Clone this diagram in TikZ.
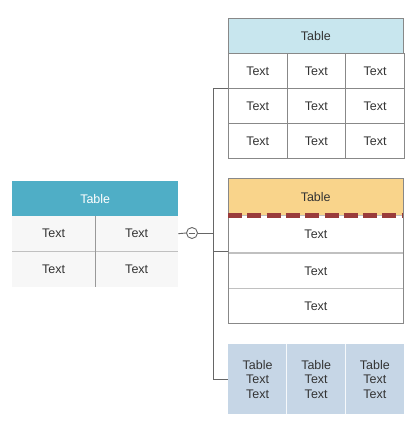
\documentclass[tikz,border=0pt]{standalone}
\usepackage{fontspec}
\setmainfont{Liberation Sans}
\begin{document}
\definecolor{lhead}{HTML}{4FAEC6}
\definecolor{lbody}{HTML}{F7F7F7}
\definecolor{lrow}{HTML}{C0C0C0}
\definecolor{lcol}{HTML}{999999}
\definecolor{thead}{HTML}{C8E6EE}
\definecolor{bord}{HTML}{888888}
\definecolor{ohead}{HTML}{F9D48B}
\definecolor{dashc}{HTML}{9A3B3B}
\definecolor{bfill}{HTML}{C6D6E6}
\definecolor{txt}{HTML}{333333}
\definecolor{conn}{HTML}{666666}
\begin{tikzpicture}[x=1pt,y=-1pt,
  every node/.style={font=\fontsize{12.5}{14}\selectfont, text=txt, inner sep=0pt, anchor=north west},
  cellbox/.style={minimum width=#1, minimum height=35},
  tcell/.style={draw=bord, line width=0.8pt, fill=white},
  conline/.style={draw=conn, line width=0.9pt}
]
\useasboundingbox (0,0) rectangle (418,432);
% left table
\node[fill=lhead, text=white, minimum width=166, minimum height=35] (Lh) at (12,181) {Table};
\node[fill=lbody, minimum width=83, minimum height=35] (L11) at (12,216) {Text};
\node[fill=lbody, minimum width=83, minimum height=35] (L12) at (95,216) {Text};
\node[fill=lbody, minimum width=83, minimum height=36] (L21) at (12,251) {Text};
\node[fill=lbody, minimum width=83, minimum height=36] (L22) at (95,251) {Text};
\draw[lrow, line width=1.6pt] (L11.south west) -- (L12.south east);
\draw[lcol, line width=0.9pt] (L12.north west) -- (L22.south west);
\node[draw=none, minimum width=166, minimum height=106] (L) at (12,181) {};
% top table
\node[fill=thead, draw=bord, line width=0.8pt, minimum width=175, minimum height=35] (Th) at (228,18) {Table};
\foreach \r/\y in {1/53,2/88,3/123}{
  \foreach \c/\x in {1/228,2/286.67,3/345.33}{
    \node[tcell, cellbox=58.67] (T\r\c) at (\x,\y) {Text};
  }
}
\node[minimum width=175, minimum height=140] (T) at (228,18) {};
% middle table
\node[fill=ohead, minimum width=175, minimum height=37] (Mh) at (228,178) {Table};
\node[draw=lrow, line width=0.9pt, fill=white, minimum width=175, minimum height=37] (M1) at (228,215) {Text};
\node[draw=lrow, line width=0.9pt, fill=white, minimum width=175, minimum height=35] (M2) at (228,253) {Text};
\node[draw=lrow, line width=0.9pt, fill=white, minimum width=175, minimum height=35] (M3) at (228,288) {Text};
\node[draw=bord, line width=0.9pt, minimum width=175, minimum height=145] (M) at (228,178) {};
\draw[dashc, line width=4.5pt, dash pattern=on 14pt off 5.3pt] (Mh.south west) -- (Mh.south east);
% bottom table
\foreach \c/\x in {1/228,2/286.67,3/345.33}{
  \node[fill=bfill, minimum width=58.67, minimum height=70, align=center,
        font=\fontsize{12.5}{14.5}\selectfont] (B\c) at (\x,344) {Table\\Text\\Text};
}
\draw[white!85!bfill, line width=1.5pt] (B2.north west) -- (B2.south west);
\draw[white!85!bfill, line width=1.5pt] (B3.north west) -- (B3.south west);
\node[minimum width=175, minimum height=70] (B) at (228,344) {};
% connectors
\node[draw=conn, line width=0.9pt, circle, minimum size=11, anchor=center] (c) at (192,233) {};
\draw[conn, line width=0.9pt] ([xshift=2.5]c.west) -- ([xshift=-2.5]c.east);
\coordinate (tx) at (213,0);
\draw[conline] (L12.east) -- (c.west);
\draw[conline] (c.east) -- (c -| tx);
\draw[conline] (T.west) -- (T.west -| tx) -- (B.west -| tx) -- (B.west);
\draw[conline] (M.west -| tx) -- (M.west);
\end{tikzpicture}
\end{document}
